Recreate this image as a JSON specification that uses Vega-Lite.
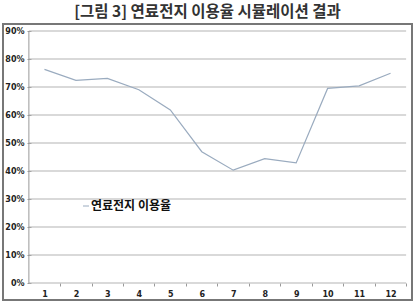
{
  "$schema": "https://vega.github.io/schema/vega-lite/v6.json",
  "width": 409,
  "height": 276,
  "autosize": "none",
  "padding": {"left": 3, "top": 24, "right": 6, "bottom": 2},
  "background": "white",
  "title": {
    "text": "[그림 3] 연료전지 이용율 시뮬레이션 결과",
    "anchor": "middle",
    "font": "Noto Sans CJK KR",
    "fontSize": 15.5,
    "fontWeight": "bold",
    "color": "#333333",
    "offset": 4
  },
  "config": {
    "view": {"stroke": "#777777", "strokeWidth": 2},
    "axis": {
      "labelFont": "DejaVu Sans",
      "labelFontSize": 8,
      "labelFontWeight": "bold",
      "labelColor": "#222222",
      "tickColor": "#999999",
      "labelOverlap": false,
      "title": null
    },
    "axisY": {
      "offset": -28,
      "values": [0, 0.1, 0.2, 0.3, 0.4, 0.5, 0.6, 0.7, 0.8, 0.9],
      "format": ".0%",
      "grid": false,
      "domain": false,
      "tickSize": 4,
      "labelPadding": 3
    },
    "axisX": {
      "offset": -17,
      "domain": false,
      "labelAngle": 0,
      "tickSize": 3,
      "tickOffset": 15.58,
      "labelOffset": -15.58,
      "labelPadding": 4,
      "grid": false
    }
  },
  "datasets": {
    "series": [
      {"month": "1", "rate": 0.763, "series": "연료전지 이용율"},
      {"month": "2", "rate": 0.724, "series": "연료전지 이용율"},
      {"month": "3", "rate": 0.731, "series": "연료전지 이용율"},
      {"month": "4", "rate": 0.69, "series": "연료전지 이용율"},
      {"month": "5", "rate": 0.618, "series": "연료전지 이용율"},
      {"month": "6", "rate": 0.469, "series": "연료전지 이용율"},
      {"month": "7", "rate": 0.403, "series": "연료전지 이용율"},
      {"month": "8", "rate": 0.444, "series": "연료전지 이용율"},
      {"month": "9", "rate": 0.429, "series": "연료전지 이용율"},
      {"month": "10", "rate": 0.695, "series": "연료전지 이용율"},
      {"month": "11", "rate": 0.704, "series": "연료전지 이용율"},
      {"month": "12", "rate": 0.749, "series": "연료전지 이용율"}
    ],
    "levels": [
      {"level": 0, "from": "1", "to": "12"}, {"level": 0.1, "from": "1", "to": "12"},
      {"level": 0.2, "from": "1", "to": "12"}, {"level": 0.3, "from": "1", "to": "12"},
      {"level": 0.4, "from": "1", "to": "12"}, {"level": 0.5, "from": "1", "to": "12"},
      {"level": 0.6, "from": "1", "to": "12"}, {"level": 0.7, "from": "1", "to": "12"},
      {"level": 0.8, "from": "1", "to": "12"}, {"level": 0.9, "from": "1", "to": "12"}
    ],
    "yline": [{"from": "1", "low": 0, "high": 0.9}]
  },
  "layer": [
    {
      "data": {"name": "levels"},
      "mark": {"type": "rule", "color": "#b3b3b3", "strokeWidth": 1, "xOffset": -15.58, "x2Offset": 15.58},
      "encoding": {
        "y": {
          "field": "level",
          "type": "quantitative",
          "scale": {"domain": [-0.0607, 0.925], "nice": false, "zero": false}
        },
        "x": {
          "field": "from",
          "type": "nominal",
          "scale": {"type": "point", "domain": ["1","2","3","4","5","6","7","8","9","10","11","12"], "padding": 1.062, "align": 0.659}
        },
        "x2": {"field": "to"}
      }
    },
    {
      "data": {"name": "yline"},
      "mark": {"type": "rule", "color": "#999999", "strokeWidth": 1, "xOffset": -15.58},
      "encoding": {
        "x": {"field": "from", "type": "nominal"},
        "y": {"field": "low", "type": "quantitative"},
        "y2": {"field": "high"}
      }
    },
    {
      "data": {"name": "series"},
      "mark": {"type": "line", "strokeWidth": 1.2},
      "encoding": {
        "x": {"field": "month", "type": "nominal"},
        "y": {"field": "rate", "type": "quantitative"},
        "color": {
          "field": "series",
          "type": "nominal",
          "scale": {"range": ["#9aabbf"]},
          "legend": {
            "orient": "none",
            "legendX": 77,
            "legendY": 176,
            "title": null,
            "padding": 0,
            "symbolType": "stroke",
            "symbolSize": 36,
            "symbolStrokeWidth": 1,
            "labelOffset": -1,
            "labelFont": "Noto Sans CJK KR",
            "labelFontSize": 12,
            "labelFontWeight": "bold",
            "labelColor": "#111111"
          }
        }
      }
    }
  ]
}
